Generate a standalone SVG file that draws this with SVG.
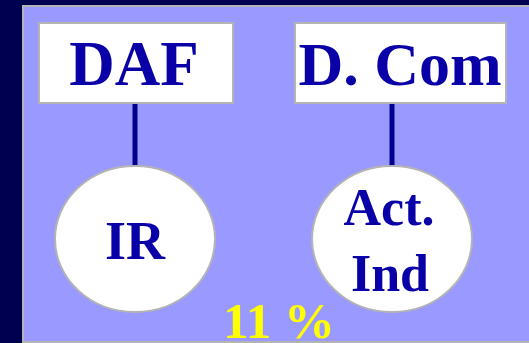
<svg xmlns="http://www.w3.org/2000/svg" width="529" height="343" viewBox="0 0 529 343">
<style>
.box{fill:#ffffff;stroke:#b4b4b4;stroke-width:2}
.lbl{font-family:"Liberation Serif",serif;font-weight:bold;fill:#0a00a8;text-anchor:middle}
.conn{stroke:#00008c;stroke-width:5}
</style>
<rect x="0" y="0" width="529" height="343" fill="#000050"/>
<rect x="23" y="6" width="520" height="336" fill="#9999ff" stroke="#b4b4b4" stroke-width="2"/>
<g id="connectors">
<line class="conn" x1="135" y1="103" x2="135" y2="167"/>
<line class="conn" x1="392" y1="103" x2="392" y2="167"/>
</g>
<g id="daf">
<rect class="box" x="39" y="23" width="194" height="80"/>
<text class="lbl" x="134" y="85" font-size="63">DAF</text>
</g>
<g id="dcom">
<rect class="box" x="295" y="23" width="211" height="80"/>
<text class="lbl" x="400" y="85" font-size="62">D. Com</text>
</g>
<g id="ir">
<ellipse class="box" cx="135" cy="239" rx="80" ry="73"/>
<text class="lbl" x="135" y="259" font-size="54">IR</text>
</g>
<g id="actind">
<ellipse class="box" cx="392" cy="239" rx="80" ry="73"/>
<text class="lbl" x="389" y="225" font-size="52">Act.</text>
<text class="lbl" x="390" y="291" font-size="52">Ind</text>
</g>
<text x="279" y="338" font-family="Liberation Serif,serif" font-weight="bold" font-size="51" fill="#ffff00" text-anchor="middle">11 %</text>
</svg>
